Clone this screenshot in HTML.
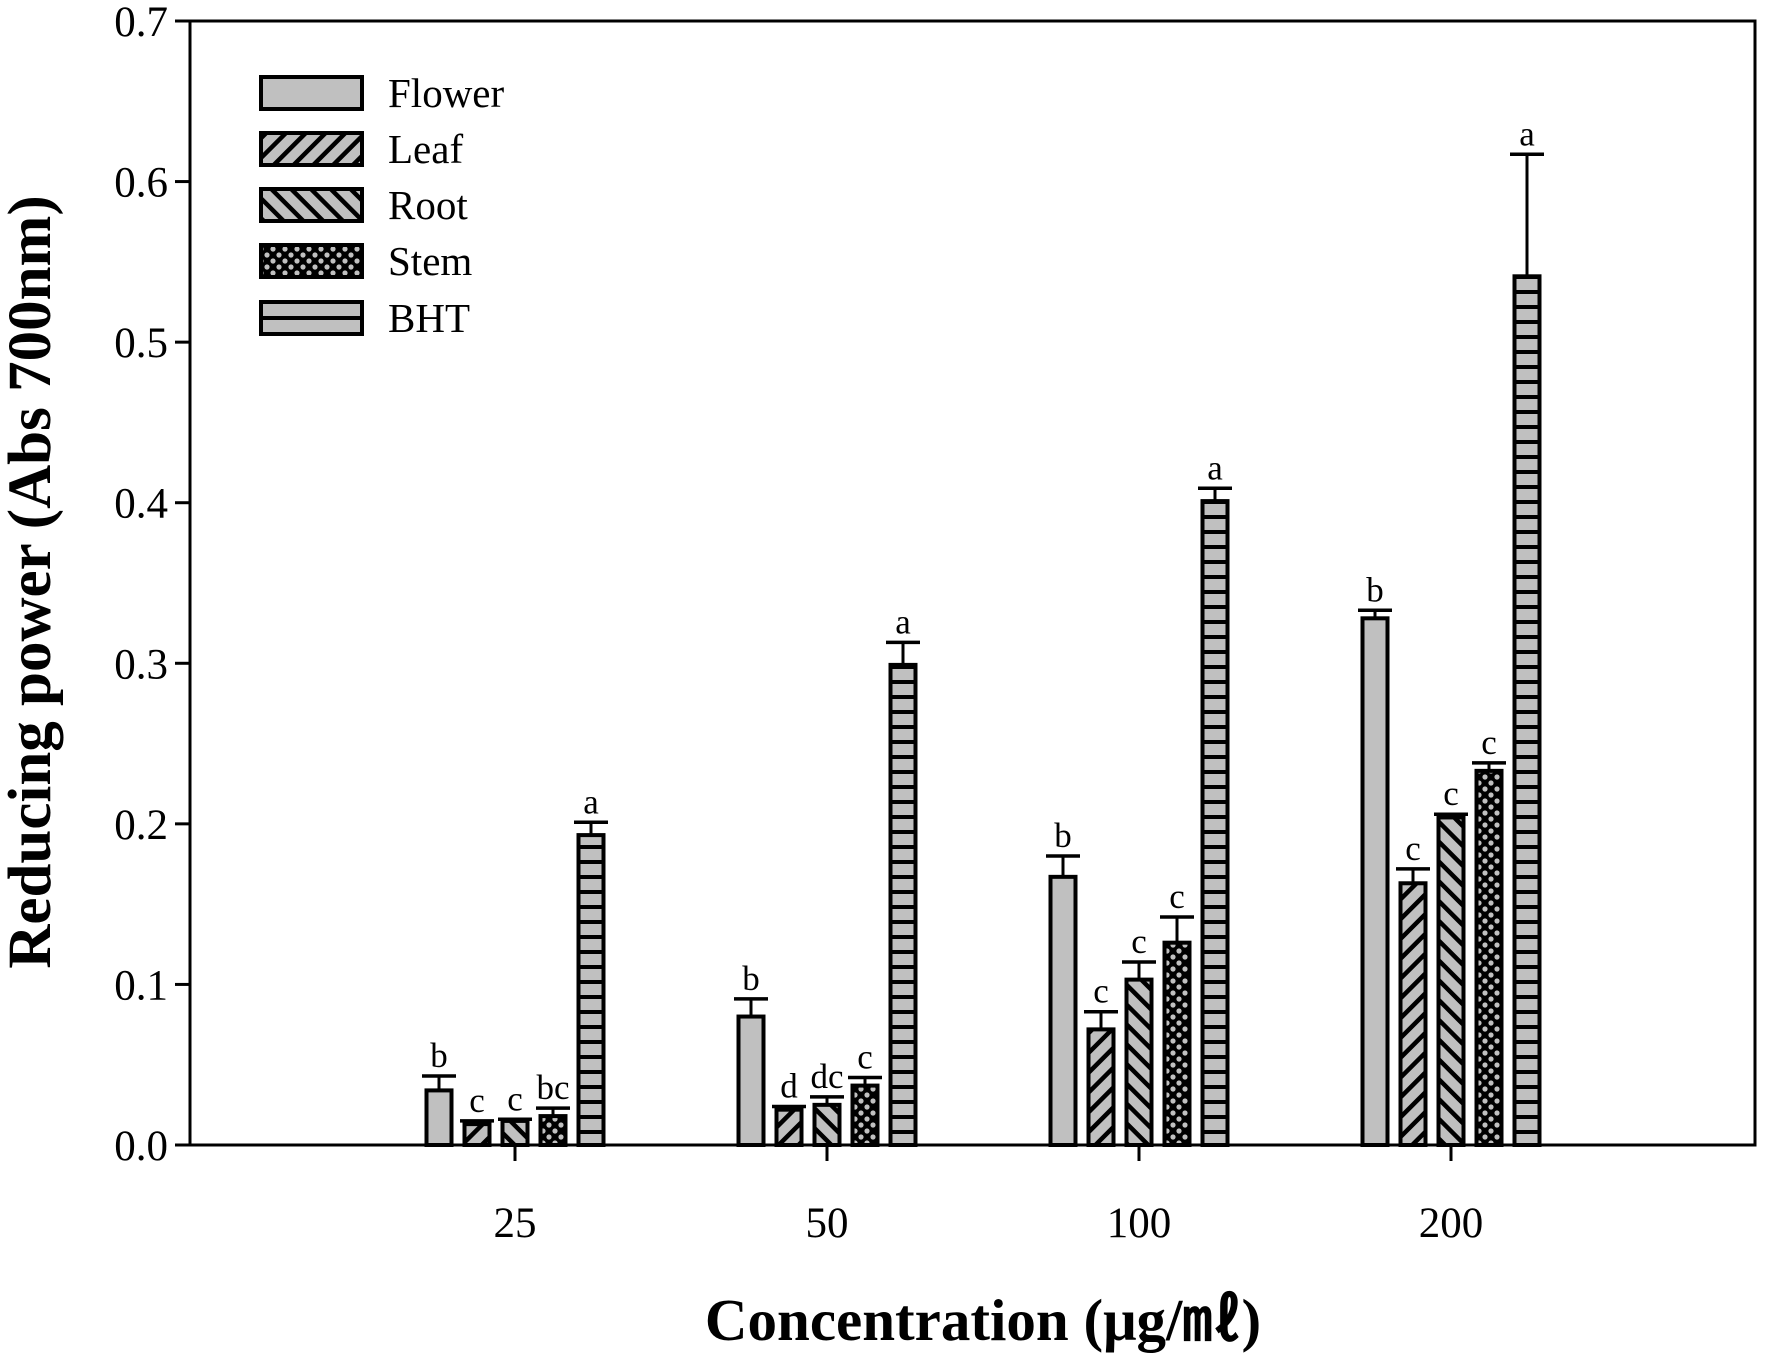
<!DOCTYPE html>
<html><head><meta charset="utf-8"><style>
html,body{margin:0;padding:0;background:#fff;}
svg{display:block;font-family:"Liberation Serif",serif;}
</style></head><body>
<svg id="chart" width="1772" height="1357" viewBox="0 0 1772 1357" xmlns="http://www.w3.org/2000/svg">
<defs>
<pattern id="p-leaf" patternUnits="userSpaceOnUse" width="14" height="14" patternTransform="rotate(45)">
<rect width="14" height="14" fill="#c0c0c0"/><rect x="0" y="0" width="4.5" height="14" fill="#000"/></pattern>
<pattern id="p-root" patternUnits="userSpaceOnUse" width="14" height="14" patternTransform="rotate(-45)">
<rect width="14" height="14" fill="#c0c0c0"/><rect x="0" y="0" width="4.5" height="14" fill="#000"/></pattern>
<pattern id="p-stem" patternUnits="userSpaceOnUse" width="12" height="12">
<rect width="12" height="12" fill="#000"/><circle cx="3" cy="3" r="2.6" fill="#c0c0c0"/><circle cx="9" cy="9" r="2.6" fill="#c0c0c0"/></pattern>
<pattern id="p-bht" patternUnits="userSpaceOnUse" width="20" height="15" y="1145">
<rect width="20" height="15" fill="#c0c0c0"/><rect y="0" width="20" height="4" fill="#000"/></pattern>
</defs>
<g id="plot"></g>
</svg>
<script>
const categories = ["25","50","100","200"];
const seriesNames = ["Flower","Leaf","Root","Stem","BHT"];
const flower = [0.034,0.080,0.167,0.328];
const leaf = [0.013,0.022,0.072,0.163];
const root = [0.015,0.025,0.103,0.204];
const stem = [0.018,0.037,0.126,0.233];
const bht = [0.193,0.299,0.401,0.541];
const flowerErr = [0.043,0.091,0.180,0.333];
const leafErr = [0.015,0.024,0.083,0.172];
const rootErr = [0.016,0.030,0.114,0.206];
const stemErr = [0.023,0.042,0.142,0.238];
const bhtErr = [0.201,0.313,0.409,0.617];
const flowerLetters = ["b","b","b","b"];
const leafLetters = ["c","d","c","c"];
const rootLetters = ["c","dc","c","c"];
const stemLetters = ["bc","c","c","c"];
const bhtLetters = ["a","a","a","a"];
const yTicks = ["0.0","0.1","0.2","0.3","0.4","0.5","0.6","0.7"];

const NS="http://www.w3.org/2000/svg";
const g=document.getElementById('plot');
const L=190,R=1755,T=21,B=1145;
const yScale=v=>B-(v/0.7)*(B-T);
const xScale=i=>515+i*312;
function mk(tag,attrs,parent){const e=document.createElementNS(NS,tag);for(const k in attrs)e.setAttribute(k,attrs[k]);(parent||g).appendChild(e);return e;}

const series=[flower,leaf,root,stem,bht];
const errs=[flowerErr,leafErr,rootErr,stemErr,bhtErr];
const letters=[flowerLetters,leafLetters,rootLetters,stemLetters,bhtLetters];
const fills=["#c0c0c0","url(#p-leaf)","url(#p-root)","url(#p-stem)","url(#p-bht)"];
const bw=25, step=38;

const frame=mk('rect',{x:L,y:T,width:R-L,height:B-T,fill:'none',stroke:'#000','stroke-width':3});



yTicks.forEach((t)=>{
  const v=parseFloat(t), y=yScale(v);
  const tk=mk('line',{x1:L-15,x2:L,y1:y,y2:y,stroke:'#000','stroke-width':3});
  
  
  const tx=mk('text',{x:L-22,y:y+15,'text-anchor':'end','font-size':43});
  tx.textContent=t;
  
  
});

categories.forEach((c,i)=>{
  const cx=xScale(i);
  const tk=mk('line',{x1:cx,x2:cx,y1:B,y2:B+16,stroke:'#000','stroke-width':3});
  
  
  const tx=mk('text',{x:cx,y:1237,'text-anchor':'middle','font-size':43});
  tx.textContent=c;
  
  
  series.forEach((s,j)=>{
    const bx=cx+(j-2)*step;
    const yv=yScale(s[i]), ye=yScale(errs[j][i]);
    const eb=mk('line',{x1:bx,x2:bx,y1:ye,y2:yv,stroke:'#000','stroke-width':3});
    
    
    const cap=mk('line',{x1:bx-17,x2:bx+17,y1:ye,y2:ye,stroke:'#000','stroke-width':3.5});
    
    
    const r=mk('rect',{x:bx-bw/2,y:yv,width:bw,height:B-yv,fill:fills[j],stroke:'#000','stroke-width':4});
    
    
    const lt=mk('text',{x:bx,y:ye-9,'text-anchor':'middle','font-size':35});
    lt.textContent=letters[j][i];
    
    
  });
});

const ly=[93,149,205,261,318];
seriesNames.forEach((n,j)=>{
  const lg=mk('g',{});
  
  
  mk('rect',{x:261,y:ly[j]-16,width:101,height:32,fill:fills[j]==="url(#p-bht)"?"#c0c0c0":fills[j],stroke:'#000','stroke-width':4},lg);
  if(j===4) mk('line',{x1:261,x2:362,y1:ly[j],y2:ly[j],stroke:'#000','stroke-width':4},lg);
  const t=mk('text',{x:388,y:ly[j]+14,'font-size':41},lg);
  t.textContent=n;
});

const yt=mk('text',{x:0,y:0,'font-size':61,'font-weight':'bold','text-anchor':'middle',transform:'translate(50,582) rotate(-90)'});
yt.textContent='Reducing power (Abs 700nm)';


const xt=mk('text',{x:983,y:1340,'font-size':59,'font-weight':'bold','text-anchor':'middle'});
xt.textContent='Concentration (μg/㎖)';


</script>
</body></html>
